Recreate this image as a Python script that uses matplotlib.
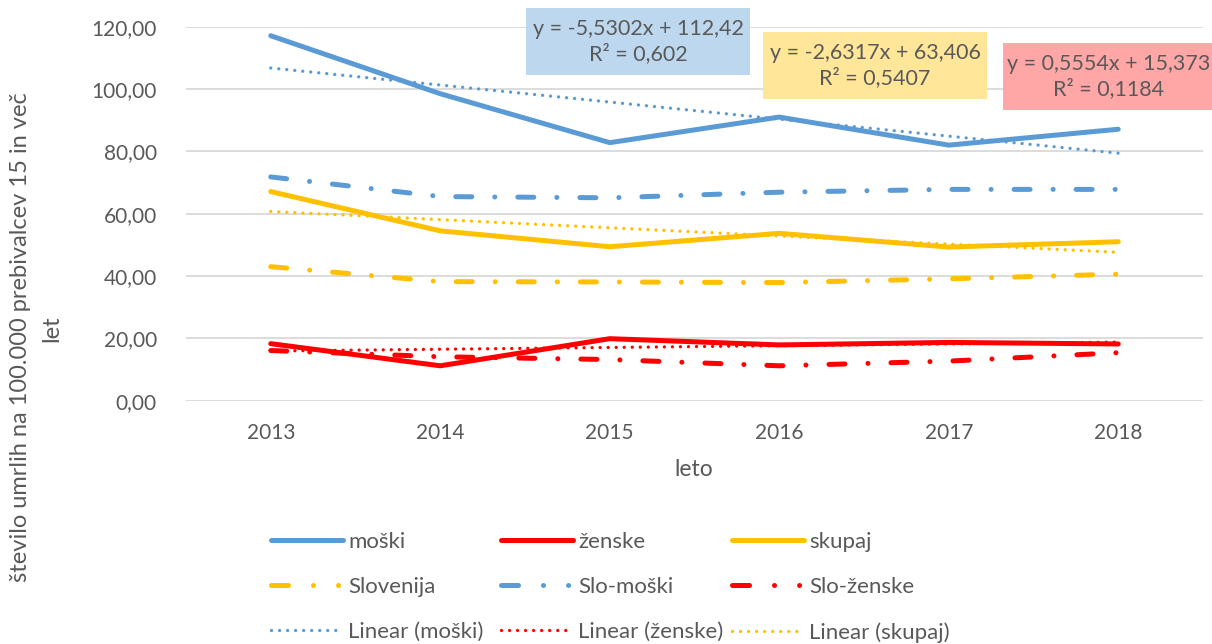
import numpy as np
import matplotlib
matplotlib.use("Agg")
import matplotlib.pyplot as plt
from matplotlib.patches import Rectangle
from matplotlib.lines import Line2D

plt.rcParams['font.family'] = ['Lato', 'DejaVu Sans']

# data
leta = ['2013', '2014', '2015', '2016', '2017', '2018']
moski = [117.1, 98.5, 82.8, 91.0, 82.0, 87.1]
zenske = [18.3, 11.2, 19.9, 17.9, 18.7, 18.2]
skupaj = [67.1, 54.5, 49.4, 53.7, 49.3, 51.0]
slovenija = [43.0, 38.2, 38.1, 37.9, 39.1, 40.6]
slo_moski = [71.8, 65.5, 65.1, 66.9, 67.8, 67.8]
slo_zenske = [16.1, 14.1, 13.2, 11.2, 12.7, 15.4]
yticks = [0, 20, 40, 60, 80, 100, 120]
enacbe = ['y = -5,5302x + 112,42\nR² = 0,602',
          'y = -2,6317x + 63,406\nR² = 0,5407',
          'y = 0,5554x + 15,373\nR² = 0,1184']

BLUE = '#5B9BD5'
RED = '#FF0000'
YEL = '#FFC000'
TXT = '#595959'
FS_TICK = 15
FS = 16

W, H = 1212, 644
fig = plt.figure(figsize=(W / 100, H / 100), dpi=100)

def px(x0, y0, x1, y1):
    return [x0 / W, 1 - y1 / H, (x1 - x0) / W, (y1 - y0) / H]

ax = fig.add_axes(px(186, 26.7, 1203, 400.7))
x = np.arange(len(leta))

lw = 3.6
dashdot = (0, (3.2, 4.6, 0.01, 4.6))
dotted = (0, (0.01, 2.4))

l_m, = ax.plot(x, moski, color=BLUE, lw=lw, solid_capstyle='round', label='moški')
l_z, = ax.plot(x, zenske, color=RED, lw=lw, solid_capstyle='round', label='ženske')
l_s, = ax.plot(x, skupaj, color=YEL, lw=lw, solid_capstyle='round', label='skupaj')
ax.plot(x, slovenija, color=YEL, lw=lw, ls=dashdot, dash_capstyle='round')
ax.plot(x, slo_moski, color=BLUE, lw=lw, ls=dashdot, dash_capstyle='round')
ax.plot(x, slo_zenske, color=RED, lw=lw, ls=dashdot, dash_capstyle='round')

trend = []
for ser, col, name in [(moski, BLUE, 'Linear (moški)'), (zenske, RED, 'Linear (ženske)'),
                       (skupaj, YEL, 'Linear (skupaj)')]:
    k, n = np.polyfit(x + 1, ser, 1)
    t, = ax.plot(x, k * (x + 1) + n, color=col, lw=2.4, ls=dotted, dash_capstyle='round', label=name)
    trend.append(t)

# legend proxies for the dash-dot series (Excel shows dash, dot, dot)
leg_dd = (0, (3.4, 5.0, 0.01, 5.0, 0.01, 10))
h_slo = Line2D([], [], color=YEL, lw=lw, ls=leg_dd, dash_capstyle='round', label='Slovenija')
h_slm = Line2D([], [], color=BLUE, lw=lw, ls=leg_dd, dash_capstyle='round', label='Slo-moški')
h_slz = Line2D([], [], color=RED, lw=lw, ls=leg_dd, dash_capstyle='round', label='Slo-ženske')

ax.set_xlim(-0.5, len(leta) - 0.5)
ax.set_ylim(0, 120)
ax.set_xticks(x)
ax.set_xticklabels(leta)
ax.set_yticks(yticks)
ax.set_yticklabels([f'{v:.2f}'.replace('.', ',') for v in yticks])
ax.tick_params(axis='both', length=0, labelsize=FS_TICK, labelcolor=TXT)
ax.tick_params(axis='x', pad=16)
ax.tick_params(axis='y', pad=21)
ax.grid(axis='y', color='#D9D9D9', lw=1.3)
ax.set_axisbelow(True)
for s in ax.spines.values():
    s.set_visible(False)

fig.text(694 / W, 1 - 470 / H, 'leto', ha='center', va='center', fontsize=16.5, color=TXT)
fig.text(21 / W, 1 - 337 / H, 'število umrlih na 100.000 prebivalcev 15 in več',
         rotation=90, ha='center', va='center', fontsize=17, color=TXT)
fig.text(52 / W, 1 - 329 / H, 'let', rotation=90, ha='center', va='center', fontsize=17, color=TXT)

# trendline equation boxes
boxes = [((526, 8, 750, 75), '#BDD7EE'), ((763, 32, 987, 99), '#FFE699'),
         ((1003, 43, 1215, 110), '#FFA6A6')]
for (bb, fc), txt in zip(boxes, enacbe):
    x0, y0, x1, y1 = bb
    r = px(x0, y0, x1, y1)
    fig.patches.append(Rectangle((r[0], r[1]), r[2], r[3], transform=fig.transFigure,
                                 facecolor=fc, edgecolor='none'))
    fig.text((x0 + x1) / 2 / W, 1 - (y0 + y1) / 2 / H, txt, ha='center', va='center',
             fontsize=15.5, color=TXT, linespacing=1.2)

# legend, one column at a time
cols = [[l_m, h_slo, trend[0]], [l_z, h_slm, trend[1]], [l_s, h_slz, trend[2]]]
for hx, hs in zip([271, 501, 732], cols):
    fig.legend(handles=hs, loc='upper left', bbox_to_anchor=(hx / W, 1 - 532 / H),
               frameon=False, fontsize=FS, labelcolor=TXT, borderpad=0, borderaxespad=0,
               handlelength=3.24, handletextpad=0.22, labelspacing=1.13)

fig.savefig('out.png', dpi=100)
